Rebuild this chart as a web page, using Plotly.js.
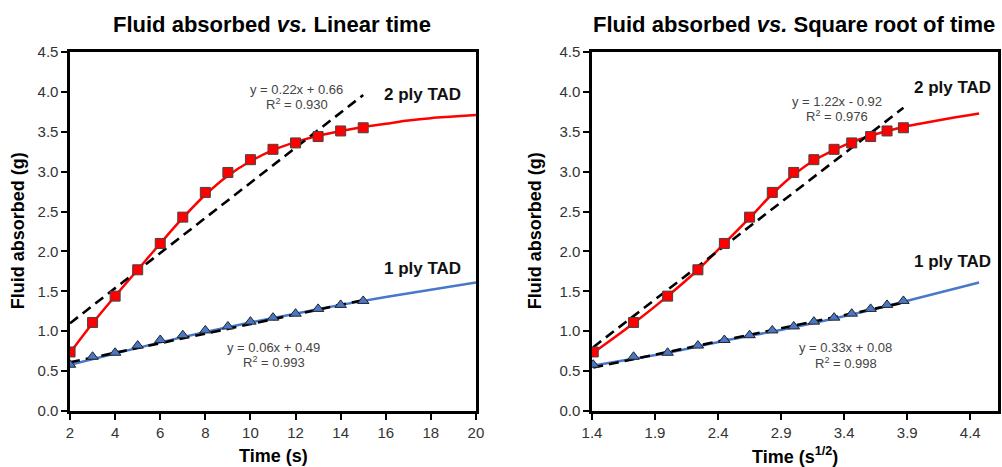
<!DOCTYPE html>
<html>
<head>
<meta charset="utf-8">
<script src="https://cdn.plot.ly/plotly-3.0.1.min.js"></script>
<style>html,body{margin:0;padding:0;background:#fff;}#chart{width:1002px;height:467px;}</style>
</head>
<body>
<div id="chart"></div>
<script>
// ---- Data ----
const timeS = [2, 3, 4, 5, 6, 7, 8, 9, 10, 11, 12, 13, 14, 15];
const sqrtTime = [1.41, 1.73, 2.00, 2.24, 2.45, 2.65, 2.83, 3.00, 3.16, 3.32, 3.46, 3.61, 3.74, 3.87];
const ply2 = [0.74, 1.11, 1.44, 1.77, 2.10, 2.43, 2.74, 2.99, 3.15, 3.28, 3.36, 3.44, 3.51, 3.55];
const ply1 = [0.58, 0.68, 0.73, 0.82, 0.89, 0.95, 1.01, 1.06, 1.12, 1.17, 1.22, 1.28, 1.33, 1.38];

// fitted curves
const fitLinX = [2, 3, 4, 5, 6, 7, 8, 9, 10, 11, 12, 13, 14, 15, 16, 17, 18, 19, 20];
const fit2LinY = [0.73, 1.10, 1.44, 1.77, 2.10, 2.42, 2.71, 2.95, 3.13, 3.27, 3.37, 3.45, 3.51, 3.56, 3.60, 3.64, 3.67, 3.69, 3.71];
const fit1LinX = [2, 4, 6, 8, 10, 12, 14, 16, 18, 20];
const fit1LinY = [0.58, 0.72, 0.86, 0.99, 1.11, 1.22, 1.33, 1.43, 1.52, 1.61];

const fitSqX = [1.41, 1.73, 2.00, 2.24, 2.45, 2.65, 2.83, 3.00, 3.16, 3.32, 3.46, 3.61, 3.74, 3.87, 4.00, 4.24, 4.47];
const fit2SqY = [0.73, 1.10, 1.44, 1.77, 2.10, 2.42, 2.72, 2.96, 3.14, 3.27, 3.37, 3.45, 3.51, 3.56, 3.60, 3.67, 3.73];
const fit1SqX = [1.41, 2.00, 2.45, 3.00, 3.46, 3.87, 4.47];
const fit1SqY = [0.57, 0.73, 0.88, 1.05, 1.21, 1.37, 1.61];

// linear regressions: [x-start, x-end] and [y-start, y-end]
const reg2LinX = [2, 15], reg2LinY = [1.10, 3.96];
const reg1LinX = [2, 15], reg1LinY = [0.61, 1.39];
const reg2SqX = [1.41, 3.87], reg2SqY = [0.80, 3.80];
const reg1SqX = [1.41, 3.87], reg1SqY = [0.545, 1.357];

const eqLabels = {
  lin2: ['y = 0.22x + 0.66', 'R<sup>2</sup> = 0.930'],
  lin1: ['y = 0.06x + 0.49', 'R<sup>2</sup> = 0.993'],
  sq2: ['y = 1.22x - 0.92', 'R<sup>2</sup> = 0.976'],
  sq1: ['y = 0.33x + 0.08', 'R<sup>2</sup> = 0.998']
};

// ---- Styles ----
const RED = '#ff0000', BLUE = '#4a78c8', FONT = 'Arial, "Liberation Sans", sans-serif';
const dashLine = {color: '#000', width: 2.6, dash: '10px,6px'};
const sqMarker = {symbol: 'square', size: 10, color: RED, line: {color: '#444', width: 1}};
const triMarker = {symbol: 'triangle-up', size: 10, color: BLUE, line: {color: '#222', width: 1}};

function traces(xa, ya, fx2, fy2, fx1, fy1, rx2, ry2, rx1, ry1, px) {
  return [
    {x: fx2, y: fy2, xaxis: xa, yaxis: ya, mode: 'lines', line: {color: RED, width: 2.5, shape: 'spline'}},
    {x: fx1, y: fy1, xaxis: xa, yaxis: ya, mode: 'lines', line: {color: BLUE, width: 2.5, shape: 'spline'}},
    {x: rx2, y: ry2, xaxis: xa, yaxis: ya, mode: 'lines', line: dashLine},
    {x: rx1, y: ry1, xaxis: xa, yaxis: ya, mode: 'lines', line: dashLine},
    {x: px, y: ply2, xaxis: xa, yaxis: ya, mode: 'markers', marker: sqMarker},
    {x: px, y: ply1, xaxis: xa, yaxis: ya, mode: 'markers', marker: triMarker}
  ];
}

const data = [
  ...traces('x', 'y', fitLinX, fit2LinY, fit1LinX, fit1LinY, reg2LinX, reg2LinY, reg1LinX, reg1LinY, timeS),
  ...traces('x2', 'y2', fitSqX, fit2SqY, fit1SqX, fit1SqY, reg2SqX, reg2SqY, reg1SqX, reg1SqY, sqrtTime)
];

const axisCommon = {
  showline: true, mirror: true, linecolor: '#000', linewidth: 2.6,
  ticks: 'outside', ticklen: 6, tickwidth: 2, tickcolor: '#000',
  showgrid: false, zeroline: false,
  tickfont: {family: FONT, size: 15, color: '#333'}
};
const yDom = [0.1199, 0.8887];

function ann(x, y, text, xref, yref, font, extra) {
  return Object.assign({x, y, text, xref, yref, showarrow: false, xanchor: 'center', yanchor: 'middle', font}, extra || {});
}
const eqFont = {family: FONT, size: 13, color: '#444'};
const lblFont = {family: FONT, size: 17, color: '#111', weight: 'bold'};
const titleFont = {family: FONT, size: 22, color: '#000', weight: 'bold'};
const axTitleFont = {family: FONT, size: 18, color: '#000', weight: 'bold'};

const annotations = [
  ann(12.06, 4.035, eqLabels.lin2[0], 'x', 'y', eqFont),
  ann(12.06, 3.85, eqLabels.lin2[1], 'x', 'y', eqFont),
  ann(17.65, 3.97, '2 ply TAD', 'x', 'y', lblFont),
  ann(17.65, 1.79, '1 ply TAD', 'x', 'y', lblFont),
  ann(11.04, 0.80, eqLabels.lin1[0], 'x', 'y', eqFont),
  ann(11.06, 0.61, eqLabels.lin1[1], 'x', 'y', eqFont),
  ann(3.34, 3.885, eqLabels.sq2[0], 'x2', 'y2', eqFont),
  ann(3.345, 3.70, eqLabels.sq2[1], 'x2', 'y2', eqFont),
  ann(4.257, 4.05, '2 ply TAD', 'x2', 'y2', lblFont),
  ann(4.257, 1.88, '1 ply TAD', 'x2', 'y2', lblFont),
  ann(3.41, 0.79, eqLabels.sq1[0], 'x2', 'y2', eqFont),
  ann(3.416, 0.60, eqLabels.sq1[1], 'x2', 'y2', eqFont),
  // chart titles
  ann(0.2715, 0.9486, 'Fluid absorbed <i>vs.</i> Linear time', 'paper', 'paper', titleFont),
  ann(0.7924, 0.9486, 'Fluid absorbed <i>vs.</i> Square root of time', 'paper', 'paper', titleFont),
  // axis titles
  ann(0.018, 0.505, 'Fluid absorbed (g)', 'paper', 'paper', axTitleFont, {textangle: -90}),
  ann(0.534, 0.505, 'Fluid absorbed (g)', 'paper', 'paper', axTitleFont, {textangle: -90}),
  ann(0.2725, 0.024, 'Time (s)', 'paper', 'paper', axTitleFont),
  ann(0.7935, 0.024, 'Time (s<sup>1/2</sup>)', 'paper', 'paper', axTitleFont)
];

const layout = {
  width: 1002, height: 467,
  margin: {l: 0, r: 0, t: 0, b: 0},
  paper_bgcolor: '#fff', plot_bgcolor: '#fff',
  showlegend: false,
  xaxis: Object.assign({}, axisCommon, {domain: [0.0699, 0.475], range: [2, 20], tick0: 2, dtick: 2, anchor: 'y'}),
  yaxis: Object.assign({}, axisCommon, {domain: yDom, range: [0, 4.5], dtick: 0.5, tickformat: '.1f', anchor: 'x'}),
  xaxis2: Object.assign({}, axisCommon, {domain: [0.5908, 0.996], range: [1.4, 4.62], tick0: 1.4, dtick: 0.5, tickformat: '.1f', anchor: 'y2'}),
  yaxis2: Object.assign({}, axisCommon, {domain: yDom, range: [0, 4.5], dtick: 0.5, tickformat: '.1f', anchor: 'x2'}),
  annotations
};

Plotly.newPlot('chart', data, layout, {staticPlot: true, displayModeBar: false});
</script>
</body>
</html>
